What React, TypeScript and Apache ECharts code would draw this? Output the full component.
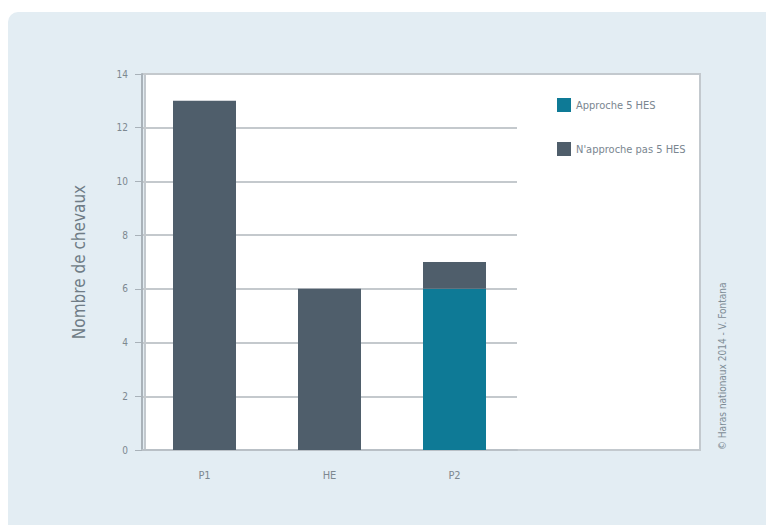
import React, { useEffect, useRef } from "react";
import * as echarts from "echarts";

const categories = ["P1", "HE", "P2"];
const approche = [null, null, 6];
const nApprochePas = [13, 6, 1];
const seriesNames = ["Approche 5 HES", "N'approche pas 5 HES"];
const yAxisTitle = "Nombre de chevaux";
const sourceText = "© Haras nationaux 2014 - V. Fontana";

const FONT = "'DejaVu Sans Condensed', 'Liberation Sans Narrow', 'Noto Sans', sans-serif";

export default function App() {
  const ref = useRef<HTMLDivElement>(null);
  useEffect(() => {
    if (!ref.current) return;
    const chart = echarts.init(ref.current, undefined, { renderer: "svg" });
    chart.setOption({
      animation: false,
      backgroundColor: "#ffffff",
      textStyle: { fontFamily: FONT },
      graphic: {
        elements: [
          {
            type: "rect",
            z: -10,
            silent: true,
            shape: { x: 8, y: 12, width: 800, height: 560, r: 10 },
            style: { fill: "#e3edf3" },
          },
          {
            type: "rect",
            z: -9,
            silent: true,
            shape: { x: 145, y: 74, width: 555, height: 376 },
            style: { fill: "#ffffff", stroke: "#c3c9ce", lineWidth: 2 },
          },
          {
            type: "text",
            x: 722,
            y: 450,
            rotation: Math.PI / 2,
            silent: true,
            style: {
              text: sourceText,
              fill: "#7e8c96",
              font: `10px ${FONT}`,
              align: "left",
              verticalAlign: "middle",
            },
          },
        ],
      },
      grid: { left: 142, right: 249, top: 74, bottom: 75, containLabel: false },
      legend: {
        orient: "vertical",
        left: 552,
        top: 93,
        itemGap: 30,
        itemWidth: 14,
        itemHeight: 14,
        icon: "rect",
        data: seriesNames,
        textStyle: { color: "#7a8690", fontSize: 11, fontFamily: FONT },
      },
      xAxis: {
        type: "category",
        data: categories,
        axisLine: { lineStyle: { color: "#b9c0c6", width: 2 } },
        axisTick: { show: false },
        axisLabel: { color: "#7d8890", fontSize: 11, margin: 20, fontFamily: FONT },
      },
      yAxis: {
        type: "value",
        min: 0,
        max: 14,
        interval: 2,
        name: yAxisTitle,
        nameLocation: "middle",
        nameGap: 55,
        nameTextStyle: { color: "#6f7c86", fontSize: 17, fontFamily: FONT },
        axisLine: { show: true, lineStyle: { color: "#a9b2b9", width: 2 } },
        axisTick: { show: true, length: 7, lineStyle: { color: "#a9b2b9" } },
        axisLabel: { color: "#7d8890", fontSize: 10, margin: 14, fontFamily: FONT },
        splitLine: { show: true, lineStyle: { color: "#c4c9cd", width: 2 } },
      },
      series: [
        {
          name: seriesNames[0],
          type: "bar",
          stack: "total",
          data: approche,
          barWidth: 63,
          itemStyle: { color: "#0e7a96" },
        },
        {
          name: seriesNames[1],
          type: "bar",
          stack: "total",
          data: nApprochePas,
          barWidth: 63,
          itemStyle: { color: "#4f5e6b" },
        },
      ],
    });
    return () => chart.dispose();
  }, []);
  return (
    <div
      ref={ref}
      style={{ position: "absolute", left: 0, top: 0, width: 766, height: 525 }}
    />
  );
}
